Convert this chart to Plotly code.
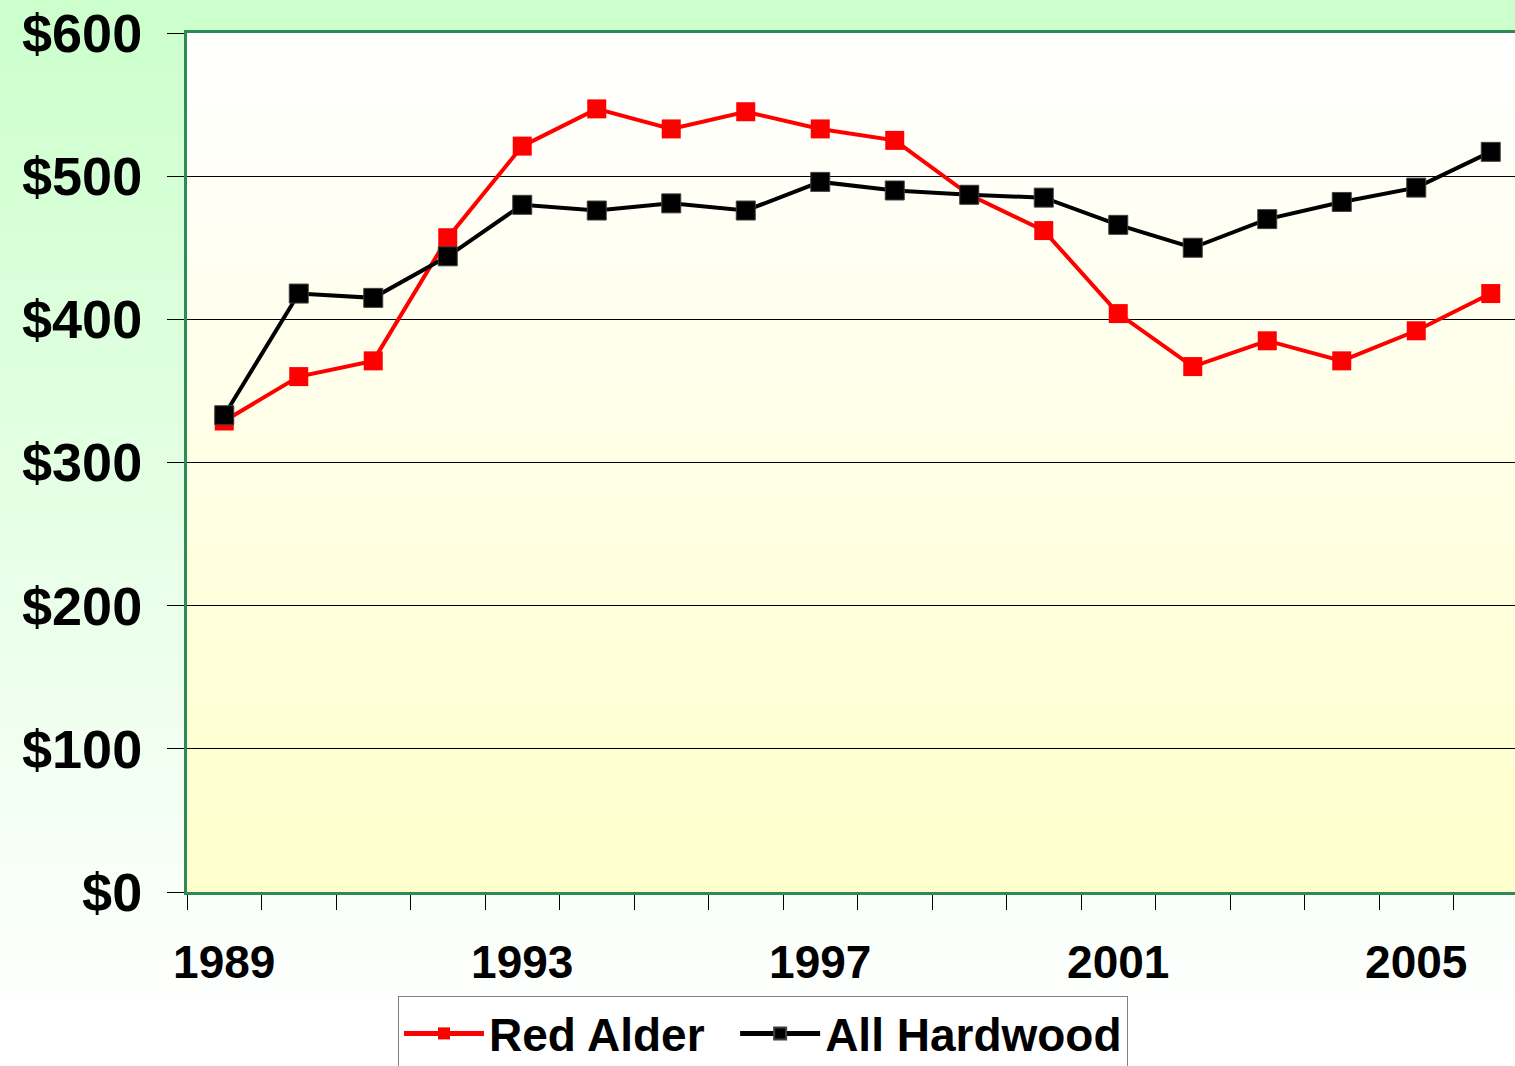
import plotly.graph_objects as go

# values ($ per thousand board feet)
years = list(range(1989, 2007))
red_alder = [329, 360, 371, 457, 521, 547, 533, 545, 533, 525,
             487, 462, 404, 367, 385, 371, 392, 418]
all_hardwood = [333, 418, 415, 444, 480, 476, 481, 476, 496, 490,
                487, 485, 466, 450, 470, 482, 492, 517]
y_ticks = [0, 100, 200, 300, 400, 500, 600]
y_labels = ["$" + str(v) for v in y_ticks]
x_labels = [1989, 1993, 1997, 2001, 2005]

W, H = 1515, 1066
L, R, T, B = 187, 0, 33, 174
PLOT_H = H - T - B
PLOT_W = W - L - R

FONT = "Arial, Liberation Sans, sans-serif"
GREEN_LINE = "#2E8B57"


def mix(c1, c2, t):
    return "rgb(%d,%d,%d)" % tuple(round(a + (b - a) * t) for a, b in zip(c1, c2))


def py(px):
    # pixel row -> paper y
    return (H - B - px) / PLOT_H


shapes = []
# page background: light green at top fading to white
n = 80
top_px, bot_px = 0, 995
for i in range(n):
    y0 = top_px + (bot_px - top_px) * i / n
    y1 = top_px + (bot_px - top_px) * (i + 1) / n + 1
    shapes.append(dict(type="rect", xref="paper", yref="paper",
                       x0=-L / PLOT_W, x1=1.01, y0=py(y1), y1=py(y0),
                       fillcolor=mix((204, 255, 204), (253, 255, 253), i / (n - 1)),
                       line_width=0, layer="below"))
# plot area: white at top fading to pale yellow
for i in range(n):
    shapes.append(dict(type="rect", xref="x domain", yref="y domain",
                       x0=0, x1=1, y0=1 - (i + 1) / n - 0.002, y1=1 - i / n,
                       fillcolor=mix((255, 255, 255), (255, 255, 204), i / (n - 1)),
                       line_width=0, layer="below"))

fig = go.Figure()
fig.add_trace(go.Scatter(
    x=years, y=red_alder, name="Red Alder\u00a0\u00a0", mode="lines+markers",
    line=dict(color="#FF0000", width=4),
    marker=dict(symbol="square", size=19, color="#FF0000"),
))
fig.add_trace(go.Scatter(
    x=years, y=all_hardwood, name="All Hardwood", mode="lines+markers",
    line=dict(color="#000000", width=4),
    marker=dict(symbol="square", size=19, color="#000000",
                line=dict(color="#404040", width=1)),
))

fig.update_layout(
    width=W, height=H,
    margin=dict(l=L, r=R, t=T, b=B, autoexpand=False),
    paper_bgcolor="white",
    plot_bgcolor="rgba(0,0,0,0)",
    font=dict(family=FONT, color="black"),
    shapes=shapes,
    showlegend=True,
    legend=dict(
        orientation="h", x=(398 - L) / PLOT_W, y=py(996),
        xanchor="left", yanchor="top",
        bgcolor="white", bordercolor="#808080", borderwidth=1,
        font=dict(family=FONT, size=46, weight="bold", color="black"),
        itemsizing="constant", itemwidth=80,
    ),
    xaxis=dict(
        range=[1988.5, 1988.5 + PLOT_W / 74.5],
        tickvals=x_labels, ticktext=[str(v) for v in x_labels],
        ticks="", showgrid=False, zeroline=False,
        tickfont=dict(family=FONT, size=46, weight="bold"),
        ticklabelstandoff=28,
        minor=dict(tick0=1988.5, dtick=1, ticks="outside", ticklen=15,
                   tickcolor="black", tickwidth=1, showgrid=False),
        showline=True, linecolor=GREEN_LINE, linewidth=3, mirror=True,
    ),
    yaxis=dict(
        range=[0, 600], tickvals=y_ticks, ticktext=y_labels,
        ticks="outside", ticklen=17, tickcolor="black", tickwidth=1,
        showgrid=True, gridcolor="black", gridwidth=1, zeroline=False,
        tickfont=dict(family=FONT, size=54, weight="bold"),
        ticklabelstandoff=14,
        showline=True, linecolor=GREEN_LINE, linewidth=3,
    ),
)

fig.write_html("out.html", config={"displayModeBar": False},
               post_script="document.body.style.margin='0';document.body.style.overflow='hidden';")
